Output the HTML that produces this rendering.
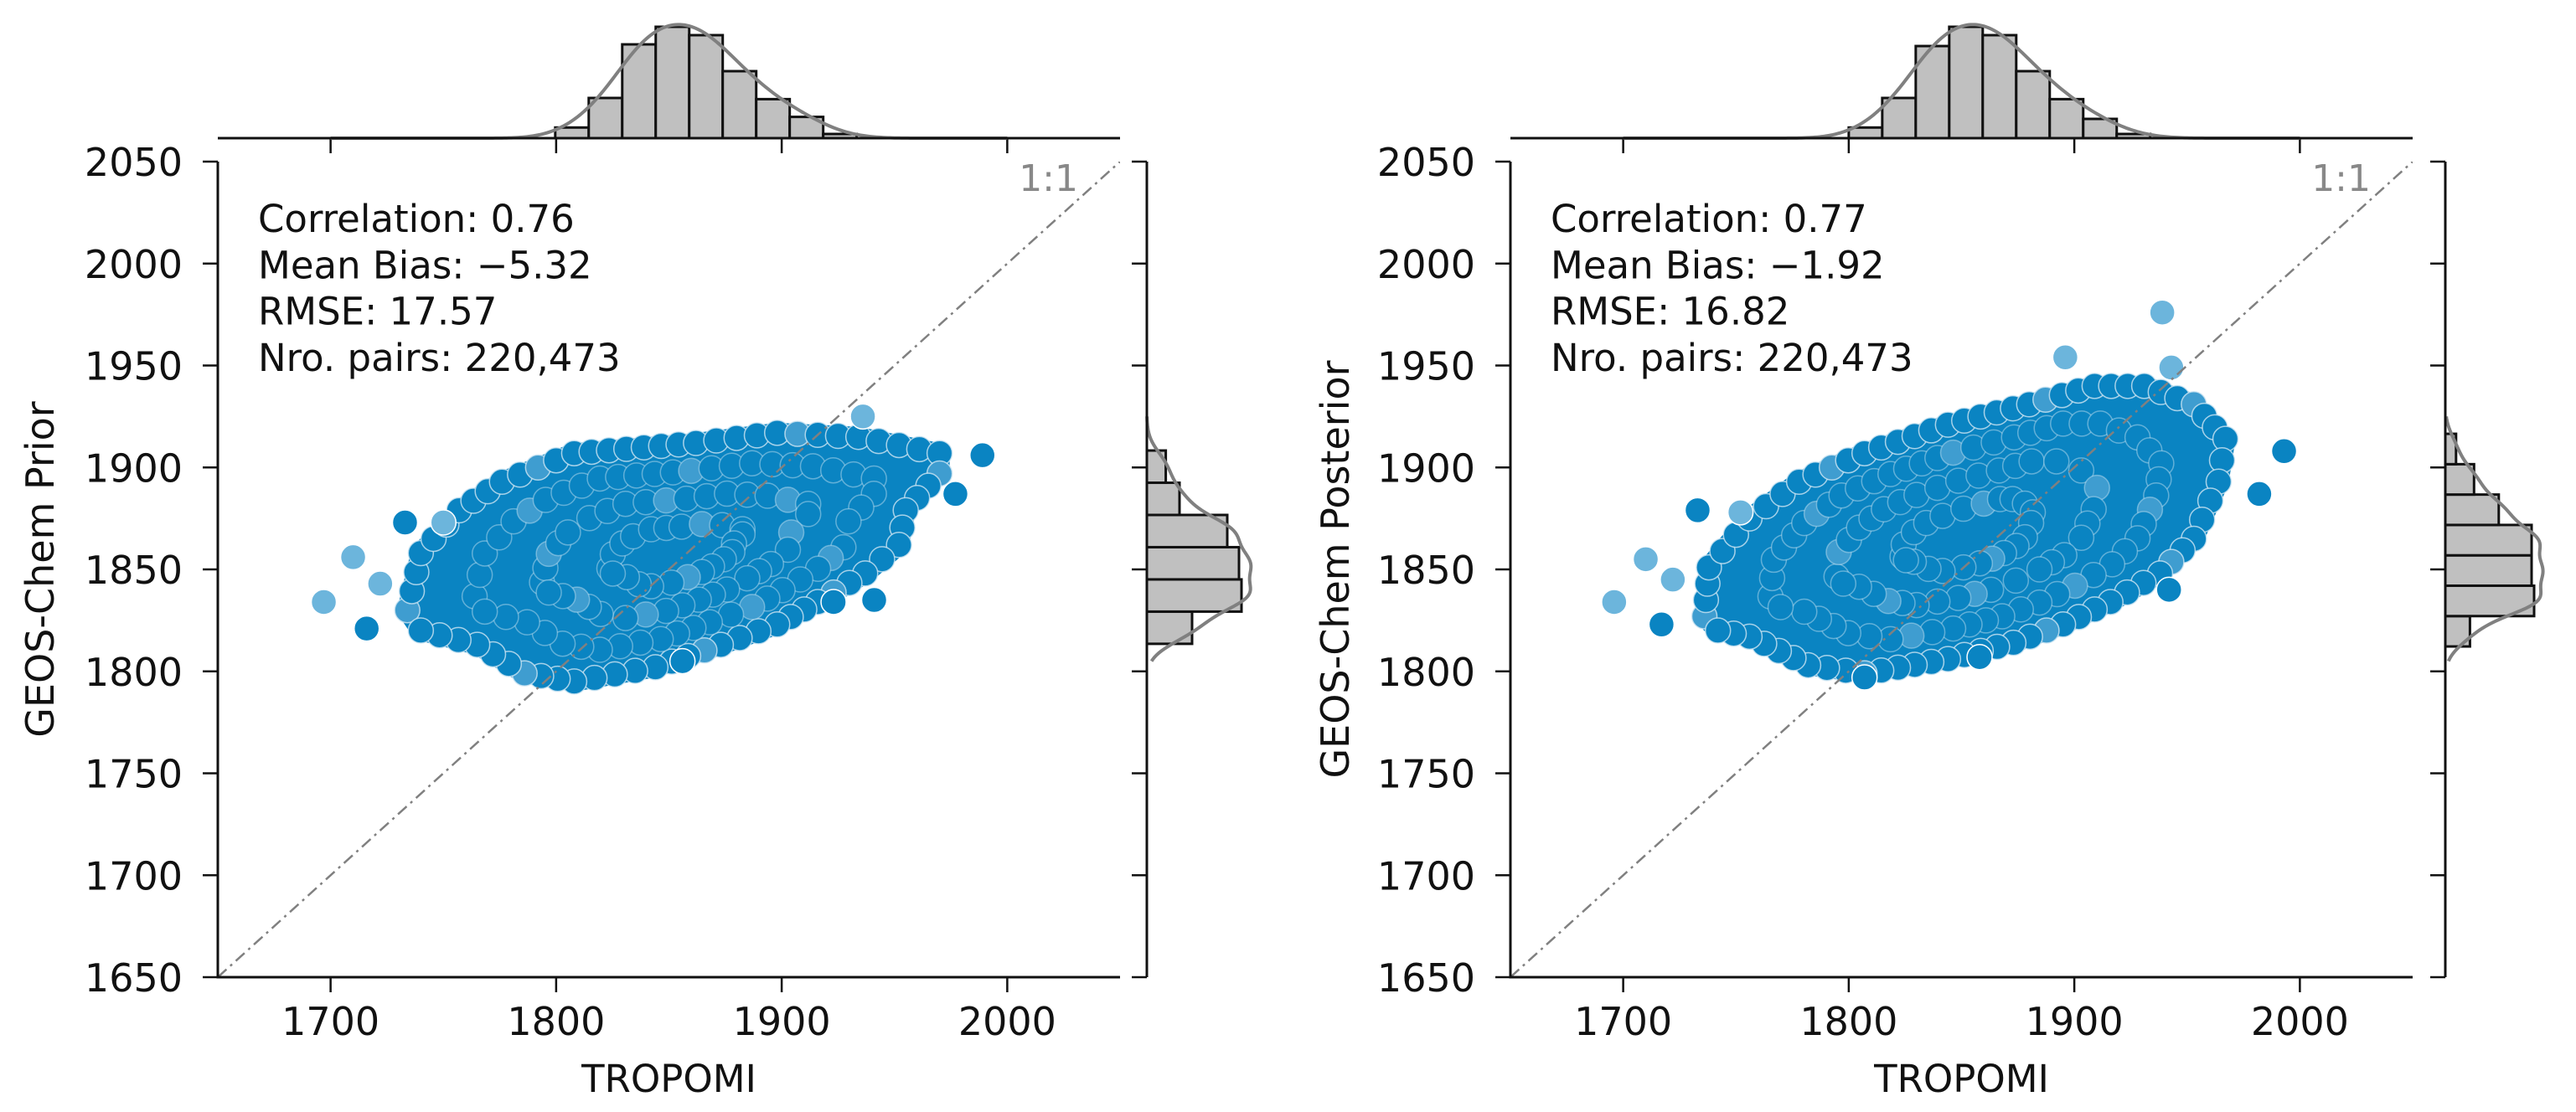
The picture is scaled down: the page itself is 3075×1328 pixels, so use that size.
<!DOCTYPE html>
<html><head><meta charset="utf-8"><style>
html,body{margin:0;padding:0;background:#fff;}
svg{display:block;}
text{font-family:"DejaVu Sans","Liberation Sans",sans-serif;}
</style></head>
<body>
<svg id="fig" width="3075" height="1328" viewBox="0 0 3075 1328" xmlns="http://www.w3.org/2000/svg"></svg>
<script>
const xTicks=[1700,1800,1900,2000];
const yTicks=[1650,1700,1750,1800,1850,1900,1950,2000,2050];
// Left panel (Prior)
const priorStats=["Correlation: 0.76","Mean Bias: \u22125.32","RMSE: 17.57","Nro. pairs: 220,473"];
const priorBlobX=[1734,1740,1757,1776,1808,1862,1898,1934,1970,1970,1955,1952,1937,1916,1898,1873,1844,1808,1786,1765,1740];
const priorBlobY=[1830,1858,1879,1893,1907,1912,1917,1915,1907,1897,1879,1862,1848,1834,1823,1813,1802,1795,1799,1813,1820];
const priorOutX=[1697,1710,1722,1716,1733,1750,1936,1977,1989,1941,1923,1856];
const priorOutY=[1834,1856,1843,1821,1873,1873,1925,1887,1906,1835,1834,1805];
const priorOutLight=[1,1,1,0,0,1,1,0,0,0,0,0];
const priorTopStart=1799.6, priorTopWidth=14.85;
const priorTopCounts=[12.7,48,112,133,123,80,46.6,25.4,5];
const priorSideStart=1813.5, priorSideWidth=15.8;
const priorSideCounts=[54,113,110,96,39,22.6];
// Right panel (Posterior)
const postStats=["Correlation: 0.77","Mean Bias: \u22121.92","RMSE: 16.82","Nro. pairs: 220,473"];
const postBlobX=[1736,1738,1756,1778,1807,1844,1880,1909,1931,1953,1967,1964,1953,1938,1916,1895,1873,1844,1807,1782,1756,1742];
const postBlobY=[1827,1851,1875,1893,1907,1921,1931,1940,1940,1931,1914,1893,1865,1848,1834,1823,1814,1806,1799,1803,1817,1820];
const postOutX=[1696,1710,1722,1717,1733,1752,1896,1939,1943,1993,1982,1942,1807,1858];
const postOutY=[1834,1855,1845,1823,1879,1878,1954,1976,1949,1908,1887,1840,1797,1807];
const postOutLight=[1,1,1,0,0,1,1,1,1,0,0,0,0,0];
const postTopStart=1800, postTopWidth=14.85;
const postTopCounts=[12.7,48,110,133,123,80,46.6,23,5];
const postSideStart=1812.2, postSideWidth=14.9;
const postSideCounts=[29.4,106,103,103,63.8,34.3,12.8];

const NS="http://www.w3.org/2000/svg";
const svg=document.getElementById('fig');
function mk(tag,attrs,parent){const e=document.createElementNS(NS,tag);for(const k in attrs)e.setAttribute(k,attrs[k]);(parent||svg).appendChild(e);return e;}

function panel(o){
  const g=mk('g',{});
  
  
  const x0=o.x0,x1=o.x1,yT=193,yB=1167;
  const sx=v=>x0+(v-1650)/400*(x1-x0);
  const sy=v=>yB-(v-1650)/400*(yB-yT);
  const cid='clip-'+o.name;
  const cp=mk('clipPath',{id:cid},g);
  mk('rect',{x:x0,y:yT,width:x1-x0,height:yB-yT},cp);
  const plot=mk('g',{'clip-path':'url(#'+cid+')'},g);
  
  
  const pts=o.bx.map((v,i)=>sx(v)+','+sy(o.by[i])).join(' ');
  const poly=mk('polygon',{points:pts,fill:'#0a84c2',stroke:'#0a84c2','stroke-width':24,'stroke-linejoin':'round'},plot);
  
  
  // centroid for inner texture rings
  const cx=o.bx.reduce((a,b)=>a+b,0)/o.bx.length, cy=o.by.reduce((a,b)=>a+b,0)/o.by.length;
  [1,0.75,0.5,0.25].forEach((sc,ri)=>{
    for(let i=0;i<o.bx.length;i++){
      const j=(i+1)%o.bx.length;
      const ax=sx(cx+(o.bx[i]-cx)*sc),ay=sy(cy+(o.by[i]-cy)*sc),bx=sx(cx+(o.bx[j]-cx)*sc),by=sy(cy+(o.by[j]-cy)*sc);
      const n=Math.max(1,Math.round(Math.hypot(bx-ax,by-ay)/22));
      for(let k=0;k<n;k++){
        const t=k/n;
        const light=((i*7+k*3+ri)%9==0);
        const c=mk('circle',{cx:ax+(bx-ax)*t,cy:ay+(by-ay)*t,r:15,fill:light?'#3f9dd0':'#0a84c2',stroke:'#cfe6f3','stroke-width':1.5,'stroke-opacity':ri==0?0.8:0.45},plot);
        
        
      }
    }
  });
  o.ox.forEach((v,i)=>{
    const c=mk('circle',{cx:sx(v),cy:sy(o.oy[i]),r:15,fill:o.ol[i]?'#6cb5dc':'#0a84c2',stroke:'#ffffff','stroke-width':1.5},plot);
    
    
  });
  const ln=mk('line',{x1:sx(1650),y1:sy(1650),x2:sx(2050),y2:sy(2050),stroke:'#808080','stroke-width':2.5,'stroke-dasharray':'14,6,3,6'},plot);
  
  
  const l11=mk('text',{x:x1-50,y:228,'font-size':44,fill:'#888','text-anchor':'end'},g);
  l11.textContent='1:1';
  
  
  o.stats.forEach((s,i)=>{
    const t=mk('text',{x:x0+48,y:277+i*55.3,'font-size':45,fill:'#111'},g);
    t.textContent=s;
    
    
  });
  const sp=mk('path',{d:`M${x0},${yT}V${yB}H${x1}`,fill:'none',stroke:'#111','stroke-width':3},g);
  
  
  xTicks.forEach(v=>{
    const tk=mk('line',{x1:sx(v),y1:yB,x2:sx(v),y2:yB+18,stroke:'#111','stroke-width':2.5},g);
    
    
    const tt=mk('line',{x1:sx(v),y1:165,x2:sx(v),y2:183,stroke:'#111','stroke-width':2.5},g);
    
    
    const t=mk('text',{x:sx(v),y:1236,'font-size':46,'text-anchor':'middle',fill:'#111'},g);
    t.textContent=v;
    
    
  });
  yTicks.forEach(v=>{
    const tk=mk('line',{x1:x0-18,y1:sy(v),x2:x0,y2:sy(v),stroke:'#111','stroke-width':2.5},g);
    
    
    const tr=mk('line',{x1:o.rx-18,y1:sy(v),x2:o.rx,y2:sy(v),stroke:'#111','stroke-width':2.5},g);
    
    
    const t=mk('text',{x:x0-42,y:sy(v)+17,'font-size':46,'text-anchor':'end',fill:'#111'},g);
    t.textContent=v;
    
    
  });
  const xl=mk('text',{x:(x0+x1)/2,y:1304,'font-size':45,'text-anchor':'middle',fill:'#111'},g);
  xl.textContent='TROPOMI';
  
  
  const yl=mk('text',{x:0,y:0,'font-size':46,'text-anchor':'middle',fill:'#111',transform:`translate(${o.ylx},${(yT+yB)/2}) rotate(-90)`},g);
  yl.textContent=o.ylabel;
  
  

  const base=165, maxPx=133;
  const tmax=Math.max(...o.tc);
  o.tc.forEach((c,i)=>{
    const a=sx(o.ts+i*o.tw), b=sx(o.ts+(i+1)*o.tw), h=c/tmax*maxPx;
    const r=mk('rect',{x:a,y:base-h,width:b-a,height:h,fill:'#c0c0c0',stroke:'#111','stroke-width':3},g);
    
    
  });
  const kde=(counts,start,w,bw,v)=>{let s=0;counts.forEach((c,i)=>{const m=start+(i+0.5)*w;s+=c*Math.exp(-0.5*((v-m)/bw)**2);});return s;};
  let kmax=0;const grid=[];for(let v=1700;v<=2000;v+=1){const k=kde(o.tc,o.ts,o.tw,o.tw*0.75,v);grid.push([v,k]);kmax=Math.max(kmax,k);}
  const tp=mk('path',{d:'M'+grid.map(p=>sx(p[0])+','+(base-p[1]/kmax*maxPx*1.02)).join('L'),fill:'none',stroke:'#808080','stroke-width':4},g);
  
  
  const tsp=mk('line',{x1:x0,y1:base,x2:x1,y2:base,stroke:'#111','stroke-width':3},g);
  
  

  const rx=o.rx, smaxPx=o.smax;
  const smax=Math.max(...o.sc);
  o.sc.forEach((c,i)=>{
    const a=sy(o.ss+(i+1)*o.sw), b=sy(o.ss+i*o.sw), w=c/smax*smaxPx;
    const r=mk('rect',{x:rx,y:a,width:w,height:b-a,fill:'#c0c0c0',stroke:'#111','stroke-width':3},g);
    
    
  });
  let smk=0;const sg=[];for(let v=1805;v<=1925;v+=1){const k=kde(o.sc,o.ss,o.sw,o.sw*0.5,v);sg.push([v,k]);smk=Math.max(smk,k);}
  const spth=mk('path',{d:'M'+sg.map(p=>(rx+p[1]/smk*smaxPx*1.1)+','+sy(p[0])).join('L'),fill:'none',stroke:'#808080','stroke-width':4},g);
  
  
  const ssp=mk('line',{x1:rx,y1:yT,x2:rx,y2:yB,stroke:'#111','stroke-width':3},g);
  
  
}

panel({name:'prior-panel',x0:260,x1:1337,rx:1369,ylx:64,ylabel:'GEOS-Chem Prior',stats:priorStats,
  bx:priorBlobX,by:priorBlobY,ox:priorOutX,oy:priorOutY,ol:priorOutLight,
  ts:priorTopStart,tw:priorTopWidth,tc:priorTopCounts,ss:priorSideStart,sw:priorSideWidth,sc:priorSideCounts,smax:113});
panel({name:'posterior-panel',x0:1803,x1:2880,rx:2919,ylx:1610,ylabel:'GEOS-Chem Posterior',stats:postStats,
  bx:postBlobX,by:postBlobY,ox:postOutX,oy:postOutY,ol:postOutLight,
  ts:postTopStart,tw:postTopWidth,tc:postTopCounts,ss:postSideStart,sw:postSideWidth,sc:postSideCounts,smax:106});
</script>
</body></html>
